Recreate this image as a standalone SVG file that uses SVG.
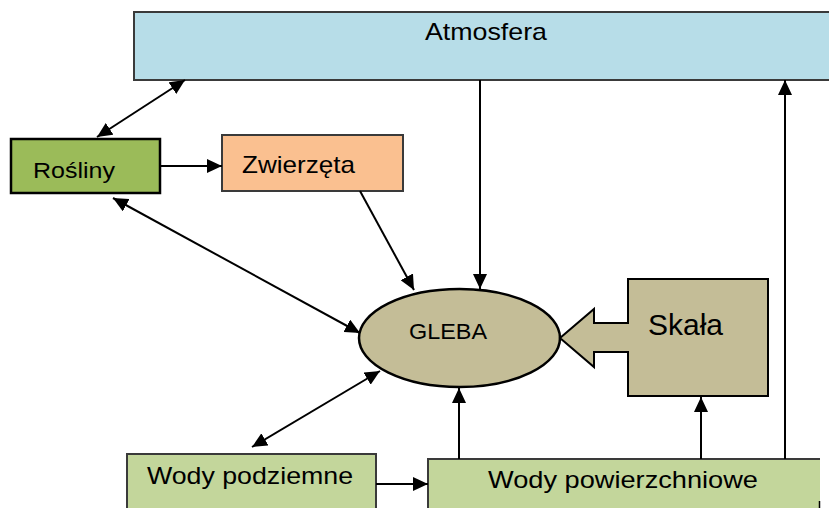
<svg xmlns="http://www.w3.org/2000/svg" width="829" height="508" viewBox="0 0 829 508">
<style>
text{font-family:"Liberation Sans",Arial,sans-serif;fill:#000;}
.box{stroke:#3a3a3a;stroke-width:2;}
.c{stroke:#000;stroke-width:2;fill:none;}
</style>
<defs>
<marker id="ah" markerUnits="userSpaceOnUse" markerWidth="16" markerHeight="14" refX="15" refY="7" orient="auto-start-reverse" viewBox="0 0 16 14">
<path d="M0,0 L15,7 L0,14 z" fill="#000"/>
</marker>
</defs>
<rect width="829" height="508" fill="#fff"/>
<g id="atmosfera">
<rect class="box" x="134" y="12" width="700" height="68" fill="#B7DDE8"/>
<text x="425" y="40" font-size="24" textLength="122" lengthAdjust="spacingAndGlyphs">Atmosfera</text>
</g>
<g id="rosliny">
<rect x="11" y="139" width="149" height="54" fill="#9BBB59" stroke="#000" stroke-width="2.5"/>
<text x="33" y="178" font-size="22" textLength="82" lengthAdjust="spacingAndGlyphs">Rośliny</text>
</g>
<g id="zwierzeta">
<rect class="box" x="222" y="135" width="181" height="56" fill="#FAC090" stroke-width="1.5"/>
<text x="242" y="173" font-size="24" textLength="113" lengthAdjust="spacingAndGlyphs">Zwierzęta</text>
</g>
<g id="gleba">
<ellipse cx="459.5" cy="338" rx="100.5" ry="49" fill="#C4BD97" stroke="#000" stroke-width="2.5"/>
<text x="409" y="339" font-size="22" textLength="78" lengthAdjust="spacingAndGlyphs">GLEBA</text>
</g>
<g id="skala">
<path d="M628,279 L768,279 L768,396 L628,396 L628,352 L594,352 L594,367 L560,338 L594,309 L594,323 L628,323 Z" fill="#C4BD97" stroke="#000" stroke-width="2"/>
<text x="648" y="335" font-size="30" textLength="75" lengthAdjust="spacingAndGlyphs">Skała</text>
</g>
<g id="wody-podziemne">
<rect class="box" x="127" y="454" width="249" height="60" fill="#C3D69B"/>
<text x="147" y="484" font-size="24" textLength="206" lengthAdjust="spacingAndGlyphs">Wody podziemne</text>
</g>
<g id="wody-powierzchniowe">
<rect x="428" y="459" width="392" height="55" fill="#C3D69B"/>
<path d="M428,514 L428,459 L820,459" fill="none" stroke="#3a3a3a" stroke-width="2"/>
<path d="M819.5,501 L819.5,508" fill="none" stroke="#000" stroke-width="1.5"/>
<text x="488" y="488" font-size="24" textLength="270" lengthAdjust="spacingAndGlyphs">Wody powierzchniowe</text>
</g>
<g id="connectors">
<line class="c" x1="97" y1="137" x2="185" y2="80" stroke-width="1.5" marker-start="url(#ah)" marker-end="url(#ah)"/>
<line class="c" x1="160" y1="166" x2="222" y2="166" marker-end="url(#ah)"/>
<line class="c" x1="113" y1="198" x2="360" y2="333" marker-start="url(#ah)" marker-end="url(#ah)"/>
<line class="c" x1="360" y1="191" x2="414" y2="290" marker-end="url(#ah)"/>
<line class="c" x1="480" y1="80" x2="480" y2="289" marker-end="url(#ah)"/>
<line class="c" x1="252" y1="447" x2="380" y2="371" marker-start="url(#ah)" marker-end="url(#ah)"/>
<line class="c" x1="376" y1="484" x2="428" y2="484" marker-end="url(#ah)"/>
<line class="c" x1="459" y1="459" x2="459" y2="388" stroke-width="1.2" stroke="#333" marker-end="url(#ah)"/>
<line class="c" x1="701" y1="459" x2="701" y2="397" marker-end="url(#ah)"/>
<line class="c" x1="785" y1="459" x2="785" y2="80" marker-end="url(#ah)"/>
</g>
</svg>
